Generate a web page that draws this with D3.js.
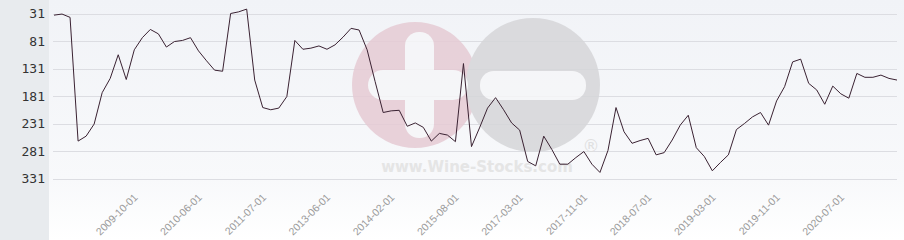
<!DOCTYPE html>
<html lang="en">
  <head>
    <meta charset="UTF-8" />
    <title>Price history</title>
    <script src="https://d3js.org/d3.v7.min.js"></script>
    <style>
      body { margin: 0; background: #fff; }
    </style>
  </head>
  <body>
    <script>
      // ranking values, one per observation (lower = better, axis is reversed)
      var values = [
        34, 32, 38, 263, 254, 232, 175, 149, 106, 151, 97, 75, 60, 68, 92, 82,
        80, 75, 99, 117, 134, 136, 31, 28, 23, 152, 202, 206, 203, 182, 80, 96,
        94, 90, 96, 88, 74, 58, 61, 97, 155, 211, 208, 207, 236, 230, 238, 263,
        249, 252, 264, 122, 273, 239, 203, 184, 206, 230, 243, 300, 308, 254,
        278, 305, 305, 293, 282, 305, 320, 280, 202, 246, 267, 262, 258, 288,
        284, 261, 234, 216, 275, 291, 317, 302, 288, 242, 231, 219, 211, 234,
        190, 164, 119, 114, 158, 170, 196, 163, 177, 185, 140, 147, 147, 143,
        149, 152
      ];
      var tickLabels = [
        "2009-10-01", "2010-06-01", "2011-07-01", "2013-06-01", "2014-02-01",
        "2015-08-01", "2017-03-01", "2017-11-01", "2018-07-01", "2019-03-01",
        "2019-11-01", "2020-07-01"
      ];
      var tickIndex = [11, 19, 27, 35, 43, 51, 59, 67, 75, 83, 91, 99];
      var yTicks = [31, 81, 131, 181, 231, 281, 331];

      var W = 904, H = 240;
      var plotRight = 897;

      var svg = d3.select("body").append("svg")
        .attr("width", W).attr("height", H);

      var defs = svg.append("defs");
      var grad = defs.append("linearGradient").attr("id", "bg")
        .attr("x1", 0).attr("y1", 0).attr("x2", 0).attr("y2", 1);
      grad.append("stop").attr("offset", "0%").attr("stop-color", "#f1f3f7");
      grad.append("stop").attr("offset", "75%").attr("stop-color", "#f8f9fb");
      grad.append("stop").attr("offset", "100%").attr("stop-color", "#ffffff");

      // left axis panel + plot background
      svg.append("rect").attr("x", 0).attr("y", 0).attr("width", 49).attr("height", H)
        .attr("fill", "#e8ebee");
      svg.append("rect").attr("x", 49).attr("y", 0).attr("width", W - 49).attr("height", H)
        .attr("fill", "url(#bg)");

      var x = d3.scaleLinear().domain([0, values.length - 1]).range([54, plotRight]);
      var y = d3.scaleLinear().domain([31, 331]).range([13.5, 178.5]);

      // grid
      svg.append("g").selectAll("line").data(yTicks).enter().append("line")
        .attr("x1", 53).attr("x2", plotRight)
        .attr("y1", function (d) { return Math.round(y(d)) + 0.5; })
        .attr("y2", function (d) { return Math.round(y(d)) + 0.5; })
        .attr("stroke", "#dcdde2").attr("stroke-width", 1);

      // watermark
      var wm = svg.append("g").attr("opacity", 0.85);
      wm.append("circle").attr("cx", 415).attr("cy", 85).attr("r", 63).attr("fill", "#e6cbd4");
      wm.append("circle").attr("cx", 533).attr("cy", 85).attr("r", 67).attr("fill", "#d6d6d9");
      wm.append("rect").attr("x", 405).attr("y", 32).attr("width", 29).attr("height", 106)
        .attr("rx", 14).attr("fill", "#f6f6f8");
      wm.append("rect").attr("x", 368).attr("y", 70).attr("width", 100).attr("height", 30)
        .attr("rx", 15).attr("fill", "#f6f6f8");
      wm.append("rect").attr("x", 480).attr("y", 71).attr("width", 106).attr("height", 29)
        .attr("rx", 14).attr("fill", "#f6f6f8");
      wm.append("text").attr("x", 591).attr("y", 152).attr("text-anchor", "middle")
        .style("font-family", "DejaVu Sans, sans-serif").style("font-size", "17px")
        .attr("fill", "#dcdcdc").text("®");
      wm.append("text").attr("x", 477).attr("y", 172).attr("text-anchor", "middle")
        .style("font-family", "DejaVu Sans, sans-serif").style("font-size", "15px")
        .style("font-weight", "bold").attr("fill", "#e2e2e2").text("www.Wine-Stocks.com");

      // y axis labels
      svg.append("g").selectAll("text").data(yTicks).enter().append("text")
        .attr("x", 45).attr("y", function (d) { return y(d); })
        .attr("dy", "0.35em").attr("text-anchor", "end")
        .style("font-family", "DejaVu Sans Mono, monospace").style("font-size", "13px")
        .attr("fill", "#333").text(function (d) { return d; });

      // x axis labels
      svg.append("g").selectAll("text").data(tickLabels).enter().append("text")
        .attr("transform", function (d, i) {
          return "translate(" + (x(tickIndex[i]) - 4) + ",198) rotate(-45)";
        })
        .attr("text-anchor", "end")
        .style("font-family", "Liberation Sans, Arial, sans-serif").style("font-size", "10.5px")
        .attr("fill", "#9a9a9a").text(function (d) { return d; });

      // line
      var line = d3.line()
        .x(function (d, i) { return x(i); })
        .y(function (d) { return y(d); });
      svg.append("path").datum(values)
        .attr("d", line).attr("fill", "none")
        .attr("stroke", "#3a2232").attr("stroke-width", 1);
    </script>
  </body>
</html>
